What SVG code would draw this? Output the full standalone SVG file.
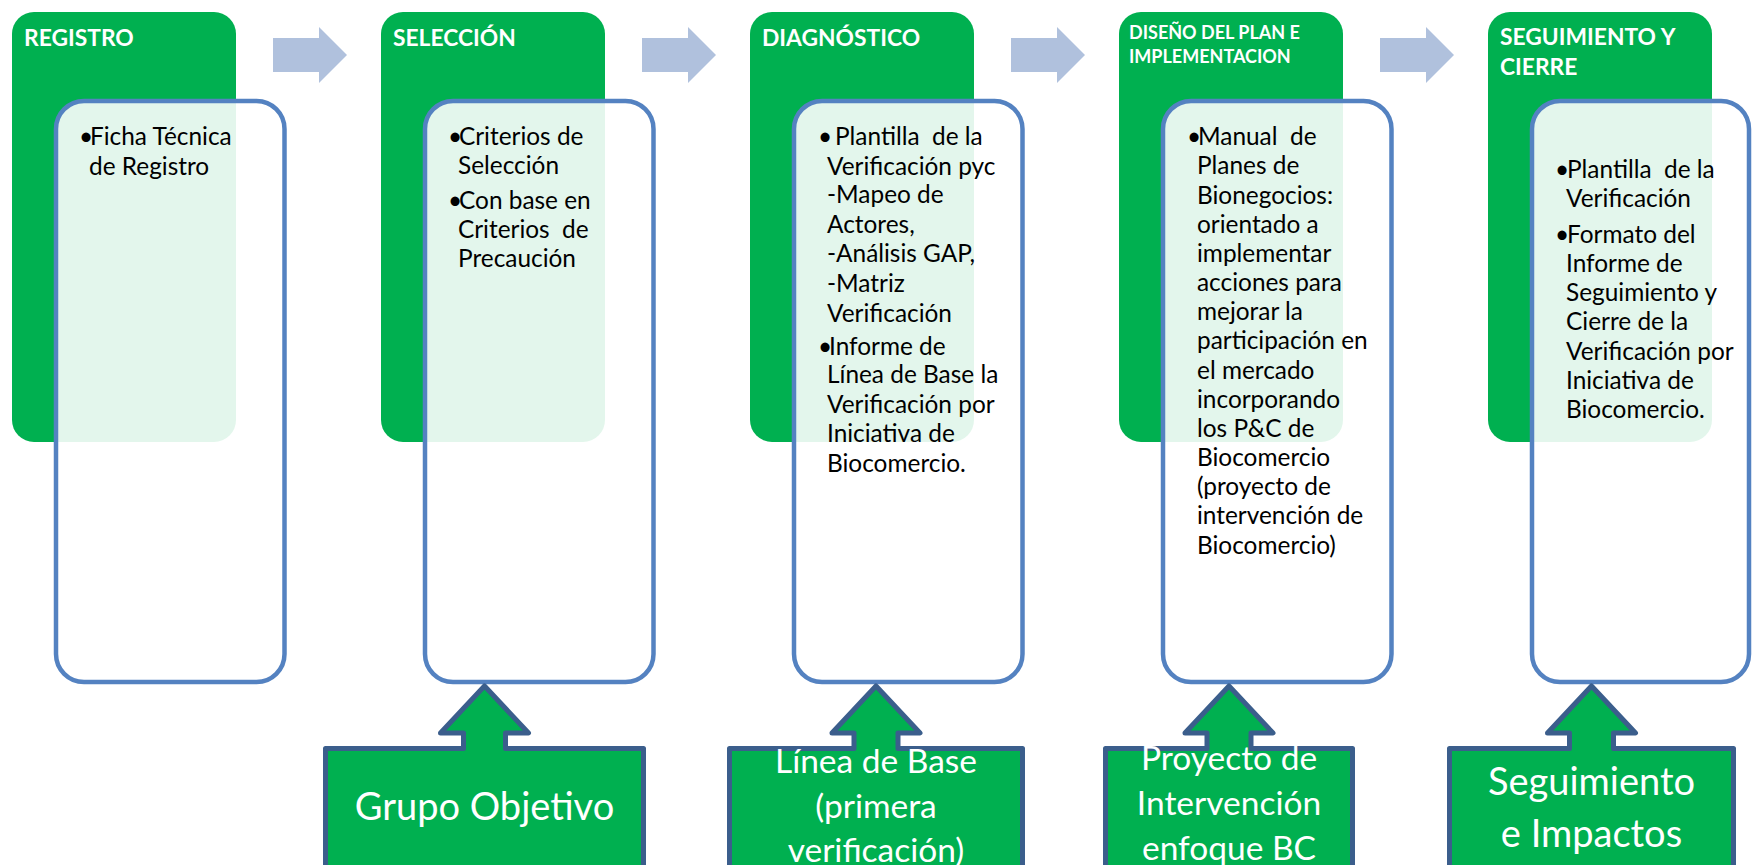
<svg xmlns="http://www.w3.org/2000/svg" width="1754" height="865" viewBox="0 0 1754 865">
<style>
.hdr{fill:#00B050}
.card{fill:#FFFFFF;fill-opacity:0.89;stroke:#5482C1;stroke-width:4.5}
.ht{font-family:Lato,"Liberation Sans",sans-serif;font-weight:bold;font-size:22.8px;fill:#FFFFFF}
.hs{font-size:18px}
.bt{font-family:Lato,"Liberation Sans",sans-serif;font-size:24.4px;fill:#000000;white-space:pre}
.arr{fill:#B0C1DD}
.co{fill:#00B050;stroke:#3B5E8C;stroke-width:5;stroke-linejoin:round}
.ct{font-family:Lato,"Liberation Sans",sans-serif;fill:#FFFFFF;text-anchor:middle}
.big{font-size:38px}
.mid{font-size:33.5px}
</style>
<rect width="1754" height="865" fill="#FFFFFF"/>
<g id="connectors">
<polygon class="arr" points="273,38 319,38 319,27 347,55 319,83 319,72 273,72"/>
<polygon class="arr" points="642,38 688,38 688,27 716,55 688,83 688,72 642,72"/>
<polygon class="arr" points="1011,38 1057,38 1057,27 1085,55 1057,83 1057,72 1011,72"/>
<polygon class="arr" points="1380,38 1426,38 1426,27 1454,55 1426,83 1426,72 1380,72"/>
</g>
<g id="registro">
<rect class="hdr" x="12" y="12" width="224" height="430" rx="22"/>
<text class="ht" x="24" y="46">REGISTRO</text>
<rect class="card" x="56" y="101" width="228.5" height="581" rx="28"/>
<text class="bt" x="79" y="145">•</text>
<text class="bt" x="90" y="145">Ficha Técnica</text>
<text class="bt" x="89" y="175">de Registro</text>
</g>
<g id="seleccion">
<rect class="hdr" x="381" y="12" width="224" height="430" rx="22"/>
<text class="ht" x="393" y="46">SELECCIÓN</text>
<rect class="card" x="425" y="101" width="228.5" height="581" rx="28"/>
<text class="bt" x="448" y="145">•</text>
<text class="bt" x="459" y="145">Criterios de</text>
<text class="bt" x="458" y="174">Selección</text>
<text class="bt" x="448" y="209">•</text>
<text class="bt" x="459" y="209">Con base en</text>
<text class="bt" x="458" y="238">Criterios  de</text>
<text class="bt" x="458" y="267">Precaución</text>
</g>
<g id="diagnostico">
<rect class="hdr" x="750" y="12" width="224" height="430" rx="22"/>
<text class="ht" x="762" y="46">DIAGNÓSTICO</text>
<rect class="card" x="794" y="101" width="228.5" height="581" rx="28"/>
<text class="bt" x="818" y="145">•</text>
<text class="bt" x="835" y="145">Plantilla  de la</text>
<text class="bt" x="827" y="175">Verificación pyc</text>
<text class="bt" x="827" y="203">-Mapeo de</text>
<text class="bt" x="827" y="233">Actores,</text>
<text class="bt" x="827" y="262">-Análisis GAP,</text>
<text class="bt" x="827" y="292">-Matriz</text>
<text class="bt" x="827" y="322">Verificación</text>
<text class="bt" x="818" y="355">•</text>
<text class="bt" x="829" y="355">Informe de</text>
<text class="bt" x="827" y="383">Línea de Base la</text>
<text class="bt" x="827" y="413">Verificación por</text>
<text class="bt" x="827" y="442">Iniciativa de</text>
<text class="bt" x="827" y="472">Biocomercio.</text>
</g>
<g id="diseno">
<rect class="hdr" x="1119" y="12" width="224" height="430" rx="22"/>
<text class="ht hs" x="1129" y="39">DISEÑO DEL PLAN E</text>
<text class="ht hs" x="1129" y="63">IMPLEMENTACION</text>
<rect class="card" x="1163" y="101" width="228.5" height="581" rx="28"/>
<text class="bt" x="1187" y="145">•</text>
<text class="bt" x="1198" y="145">Manual  de</text>
<text class="bt" x="1197" y="174">Planes de</text>
<text class="bt" x="1197" y="204">Bionegocios:</text>
<text class="bt" x="1197" y="233">orientado a</text>
<text class="bt" x="1197" y="262">implementar</text>
<text class="bt" x="1197" y="291">acciones para</text>
<text class="bt" x="1197" y="320">mejorar la</text>
<text class="bt" x="1197" y="349">participación en</text>
<text class="bt" x="1197" y="379">el mercado</text>
<text class="bt" x="1197" y="408">incorporando</text>
<text class="bt" x="1197" y="437">los P&amp;C de</text>
<text class="bt" x="1197" y="466">Biocomercio</text>
<text class="bt" x="1197" y="495">(proyecto de</text>
<text class="bt" x="1197" y="524">intervención de</text>
<text class="bt" x="1197" y="554">Biocomercio)</text>
</g>
<g id="seguimiento">
<rect class="hdr" x="1488" y="12" width="224" height="430" rx="22"/>
<text class="ht" x="1500" y="45">SEGUIMIENTO Y</text>
<text class="ht" x="1500" y="75">CIERRE</text>
<rect class="card" x="1532" y="101" width="217" height="581" rx="28"/>
<text class="bt" x="1555" y="178">•</text>
<text class="bt" x="1567" y="178">Plantilla  de la</text>
<text class="bt" x="1566" y="207">Verificación</text>
<text class="bt" x="1555" y="243">•</text>
<text class="bt" x="1567" y="243">Formato del</text>
<text class="bt" x="1566" y="272">Informe de</text>
<text class="bt" x="1566" y="301">Seguimiento y</text>
<text class="bt" x="1566" y="330">Cierre de la</text>
<text class="bt" x="1566" y="360">Verificación por</text>
<text class="bt" x="1566" y="389">Iniciativa de</text>
<text class="bt" x="1566" y="418">Biocomercio.</text>
</g>
<g id="grupo-objetivo">
<path class="co" d="M325.5,880 V748.5 H463.5 V733 H440.5 L484.5,686 L528.5,733 H505.5 V748.5 H643.5 V880 Z"/>
<text class="ct big" x="484.5" y="820">Grupo Objetivo</text>
</g>
<g id="linea-de-base">
<path class="co" d="M729.5,880 V748.5 H854 V733 H832 L876,686 L920,733 H898 V748.5 H1022.5 V880 Z"/>
<text class="ct mid" x="876" y="773">Línea de Base</text>
<text class="ct mid" x="876" y="818">(primera</text>
<text class="ct mid" x="876" y="862">verificación)</text>
</g>
<g id="proyecto-intervencion">
<path class="co" d="M1105.5,880 V748.5 H1207 V733 H1185 L1229,686 L1273,733 H1251 V748.5 H1352.5 V880 Z"/>
<text class="ct mid" x="1229" y="770">Proyecto de</text>
<text class="ct mid" x="1229" y="815">Intervención</text>
<text class="ct mid" x="1229" y="860">enfoque BC</text>
</g>
<g id="seguimiento-impactos">
<path class="co" d="M1449.5,880 V748.5 H1569.5 V733 H1547.5 L1591.5,686 L1635.5,733 H1613.5 V748.5 H1733.5 V880 Z"/>
<text class="ct big" x="1591.5" y="795">Seguimiento</text>
<text class="ct big" x="1591.5" y="847">e Impactos</text>
</g>
</svg>
